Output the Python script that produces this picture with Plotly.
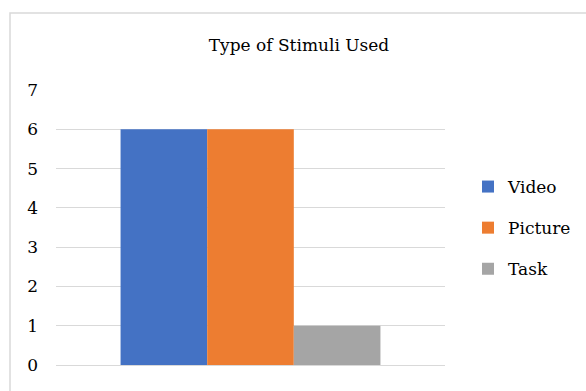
import plotly.graph_objects as go

categories = [""]
series_names = ["Video", "Picture", "Task"]
series_values = [[6], [6], [1]]
colors = ["#4472C4", "#ED7D31", "#A5A5A5"]
title_text = "Type of Stimuli Used"
y_ticks = [0, 1, 2, 3, 4, 5, 6, 7]

FONT = "DejaVu Serif"
FS = 17

fig = go.Figure()
for name, vals, col in zip(series_names, series_values, colors):
    fig.add_trace(go.Bar(x=categories, y=vals, name=name, marker=dict(color=col, line=dict(width=0)),
                         legendgroup=name))

W, H = 586, 391
L, R, T, B = 56, 141, 90, 26
pw, ph = W - L - R, H - T - B

def px_to_paper_x(px):
    return (px - L) / pw

def px_to_paper_y(py):
    return (H - B - py) / ph

fig.update_layout(
    width=W, height=H,
    margin=dict(l=L, r=R, t=T, b=B, autoexpand=False),
    paper_bgcolor="white", plot_bgcolor="white",
    font=dict(family=FONT, size=FS, color="black"),
    barmode="group", bargap=0.332, bargroupgap=0,
    title=dict(text=title_text, x=px_to_paper_x(299), xref="paper", xanchor="center",
               y=1 - 45 / H, yref="container", yanchor="middle",
               font=dict(family=FONT, size=FS, color="black")),
    showlegend=True,
    legend=dict(x=px_to_paper_x(468), xanchor="left", y=px_to_paper_y(228), yanchor="middle",
                font=dict(family=FONT, size=FS, color="black"),
                tracegroupgap=16, bgcolor="rgba(0,0,0,0)"),
    xaxis=dict(showticklabels=False, showgrid=False, zeroline=False, showline=False, ticks=""),
    yaxis=dict(range=[0, 7], tickvals=y_ticks, showgrid=True, gridcolor="#D9D9D9", gridwidth=1,
               zeroline=True, zerolinecolor="#D9D9D9", zerolinewidth=1, showline=False,
               ticks="", ticklabelstandoff=17,
               tickfont=dict(family=FONT, size=FS, color="black")),
    shapes=[dict(type="rect", xref="paper", yref="paper",
                 x0=px_to_paper_x(10), x1=px_to_paper_x(W + 20),
                 y0=px_to_paper_y(H + 20), y1=px_to_paper_y(13),
                 line=dict(color="#D9D9D9", width=1.5), fillcolor="rgba(0,0,0,0)", layer="below")],
)

fig.write_html("out.html")
